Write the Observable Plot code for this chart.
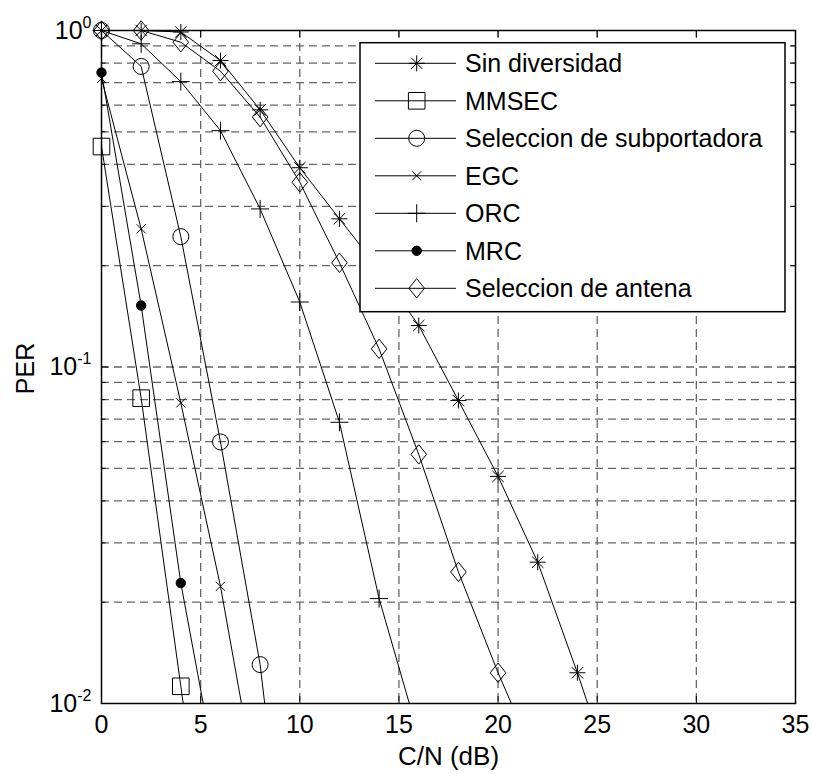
<!DOCTYPE html>
<html><head><meta charset="utf-8">
<script src="https://cdn.jsdelivr.net/npm/d3@7"></script>
<script src="https://cdn.jsdelivr.net/npm/@observablehq/plot@0.6"></script>
<style>body{margin:0;background:#fff} svg{display:block}</style>
</head><body><div id="chart"></div>
<script>
// C/N (dB) sample points (every 2 dB)
const cn = [0,2,4,6,8,10,12,14,16,18,20,22,24,26];
const seriesNames = ["Sin diversidad","MMSEC","Seleccion de subportadora","EGC","ORC","MRC","Seleccion de antena"];
// PER values (last point of each series lies below 10^-2, clipped)
const sinDiversidad = [1,1,0.99,0.814,0.581,0.391,0.2756,0.195,0.1328,0.0795,0.0473,0.0263,0.01234,0.0055];
const mmsec = [0.452,0.0808,0.01125,0.0016];
const selSubportadora = [1,0.782,0.244,0.0599,0.01305,0.0013];
const egc = [0.72,0.2574,0.0782,0.0223,0.0049];
const orc = [1,0.913,0.705,0.504,0.295,0.156,0.0685,0.0205,0.008];
const mrc = [0.75,0.1523,0.0228,0.0053];
const selAntena = [1,1,0.923,0.757,0.553,0.354,0.204,0.1132,0.055,0.0246,0.01234,0.0066];
const xTicks = [0,5,10,15,20,25,30,35];
const yMajor = [0.01,0.1,1];
const yMinor = [0.02,0.03,0.04,0.05,0.06,0.07,0.08,0.09,0.2,0.3,0.4,0.5,0.6,0.7,0.8,0.9];

const FONT = '"Liberation Sans", Arial, Helvetica, sans-serif';

const sym = {
  asterisk: {draw(c){const a=8,b=5.7;c.moveTo(-a,0);c.lineTo(a,0);c.moveTo(0,-a);c.lineTo(0,a);c.moveTo(-b,-b);c.lineTo(b,b);c.moveTo(-b,b);c.lineTo(b,-b);}},
  square: {draw(c){const h=8.3;c.moveTo(-h,-h);c.lineTo(h,-h);c.lineTo(h,h);c.lineTo(-h,h);c.closePath();}},
  circle: {draw(c){c.moveTo(8,0);c.arc(0,0,8,0,2*Math.PI);c.closePath();}},
  times: {draw(c){const h=4.5;c.moveTo(-h,-h);c.lineTo(h,h);c.moveTo(-h,h);c.lineTo(h,-h);}},
  plus: {draw(c){const h=9;c.moveTo(-h,0);c.lineTo(h,0);c.moveTo(0,-h);c.lineTo(0,h);}},
  dot: {draw(c){c.moveTo(4.7,0);c.arc(0,0,4.7,0,2*Math.PI);c.closePath();}},
  diamond: {draw(c){c.moveTo(0,-9.7);c.lineTo(7.8,0);c.lineTo(0,9.7);c.lineTo(-7.8,0);c.closePath();}}
};

const specs = [
  {name: seriesNames[0], values: sinDiversidad, symbol: sym.asterisk, fill: "none"},
  {name: seriesNames[1], values: mmsec, symbol: sym.square, fill: "none"},
  {name: seriesNames[2], values: selSubportadora, symbol: sym.circle, fill: "none"},
  {name: seriesNames[3], values: egc, symbol: sym.times, fill: "none"},
  {name: seriesNames[4], values: orc, symbol: sym.plus, fill: "none"},
  {name: seriesNames[5], values: mrc, symbol: sym.dot, fill: "black"},
  {name: seriesNames[6], values: selAntena, symbol: sym.diamond, fill: "none"}
];

const rows = specs.flatMap(s => s.values.map((v, i) => ({series: s.name, x: cn[i], y: v})));

const W = 813, H = 774, mL = 101, mR = 18, mT = 30, mB = 71;
const plotW = W - mL - mR, plotH = H - mT - mB;
const gridStyle = {stroke: "#666", strokeOpacity: 1, strokeDasharray: "8,5", strokeWidth: 1.3};

const svg = Plot.plot({
  width: W, height: H,
  marginLeft: mL, marginRight: mR, marginTop: mT, marginBottom: mB,
  style: {fontFamily: FONT, fontSize: "25px", background: "white", color: "black"},
  x: {domain: [0, 35]},
  y: {type: "log", domain: [0.01, 1]},
  marks: [
    Plot.gridX(xTicks.filter(d => d > 0 && d < 35), gridStyle),
    Plot.gridY(yMinor.concat([0.1]), gridStyle),
    Plot.line(rows, {x: "x", y: "y", z: "series", stroke: "black", strokeWidth: 1, clip: true}),
    ...specs.map(s => Plot.dot(rows.filter(r => r.series === s.name && r.y >= 0.01),
      {x: "x", y: "y", symbol: s.symbol, r: 8, stroke: "black", fill: s.fill, strokeWidth: 1})),
    Plot.frame({stroke: "black", strokeWidth: 1.5}),
    Plot.ruleX(xTicks, {x: d => d, stroke: "black", insetTop: plotH - 7}),
    Plot.ruleX(xTicks, {x: d => d, stroke: "black", insetBottom: plotH - 7}),
    Plot.ruleY(yMajor, {y: d => d, stroke: "black", insetRight: plotW - 7}),
    Plot.ruleY(yMajor, {y: d => d, stroke: "black", insetLeft: plotW - 7}),
    Plot.ruleY(yMinor, {y: d => d, stroke: "black", insetRight: plotW - 4.5}),
    Plot.ruleY(yMinor, {y: d => d, stroke: "black", insetLeft: plotW - 4.5}),
    Plot.axisX({ticks: xTicks, tickFormat: d => String(d), tickSize: 0, tickPadding: 12, fontSize: 25, label: null}),
    Plot.axisY({ticks: yMajor, tickFormat: d => "10^" + Math.round(Math.log10(d)), tickSize: 0, tickPadding: 10, fontSize: 25, label: null}),
    Plot.text(["C/N (dB)"], {text: d => d, frameAnchor: "bottom", lineAnchor: "middle", textAnchor: "middle", dy: 53.5, fontSize: 26}),
    Plot.text(["PER"], {text: d => d, frameAnchor: "left", lineAnchor: "middle", textAnchor: "middle", dx: -76, dy: 1.5, rotate: -90, fontSize: 25})
  ]
});

// superscript exponents on the log axis labels
d3.select(svg).selectAll('g[aria-label="y-axis tick label"] text').each(function() {
  const t = this.textContent;
  const parts = t.split("^");
  if (parts.length !== 2) return;
  const sel = d3.select(this);
  sel.text(null);
  sel.append("tspan").text(parts[0]);
  sel.append("tspan").attr("dy", "-11").attr("font-size", "16").text(parts[1]);
});

// legend (MATLAB-style box inside the axes)
const lg = d3.select(svg).append("g").attr("font-family", FONT).attr("font-size", 25).attr("text-anchor", "start");
const lx0 = 360, ly0 = 42.7, lx1 = 785, ly1 = 311.7, rowY0 = 63.3, rowStep = 37.5;
lg.append("rect").attr("x", lx0).attr("y", ly0).attr("width", lx1 - lx0).attr("height", ly1 - ly0)
  .attr("fill", "white").attr("stroke", "black").attr("stroke-width", 1.5);
specs.forEach((s, i) => {
  const y = rowY0 + i * rowStep;
  lg.append("line").attr("x1", 375).attr("x2", 456).attr("y1", y).attr("y2", y).attr("stroke", "black").attr("stroke-width", 1);
  lg.append("path").attr("d", d3.symbol(s.symbol, 64)()).attr("transform", `translate(416.7,${y})`)
    .attr("fill", s.fill).attr("stroke", "black").attr("stroke-width", 1);
  lg.append("text").attr("x", 465).attr("y", y).attr("dy", "0.35em").attr("text-anchor", "start").attr("fill", "black").text(s.name);
});

document.getElementById("chart").appendChild(svg);
</script>
</body></html>
